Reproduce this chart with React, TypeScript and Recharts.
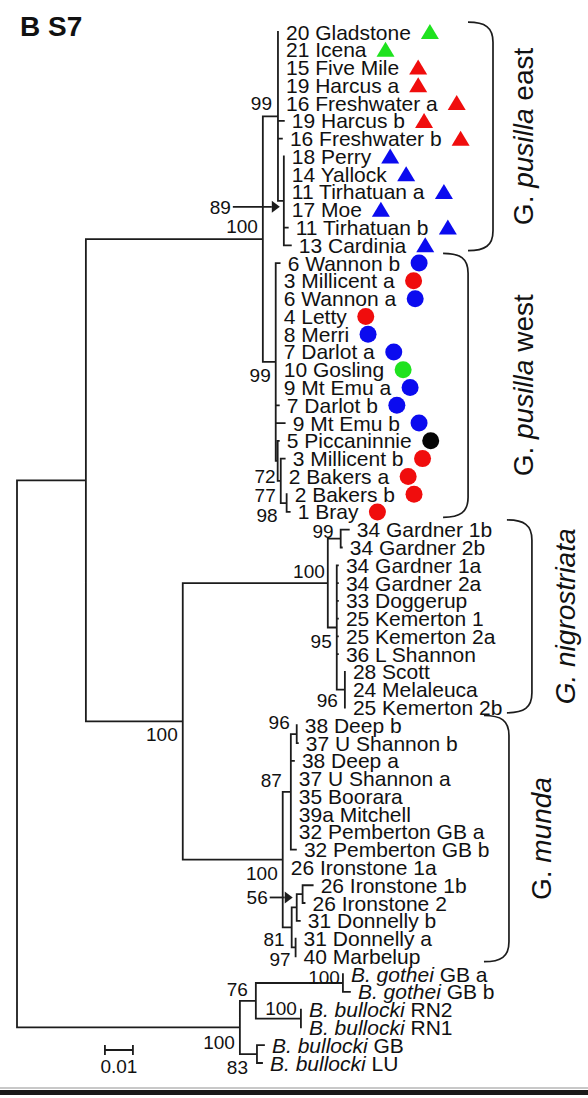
import React from 'react';
import { ComposedChart, XAxis, YAxis, Line, Scatter } from 'recharts';

// internal nodes of the tree (branch length from parent, substitutions/site)
const NODE_IDS = [
  'root', 'ingroup', 'pusilla', 'east', 'eastSub', 'west', 'westA', 'westB', 'westC',
  'nigroMunda', 'nigro', 'gardnerB', 'nigroPoly', 'scottSub',
  'munda', 'm87', 'm96', 'm81', 'm56', 'mIr', 'm97',
  'outgroup', 'gothRN', 'gothei', 'rn', 'gblu',
];
const NODE_PARENTS = [
  '', 'root', 'ingroup', 'pusilla', 'east', 'pusilla', 'west', 'westA', 'westB',
  'ingroup', 'nigroMunda', 'nigro', 'nigro', 'nigroPoly',
  'nigroMunda', 'munda', 'm87', 'munda', 'm81', 'm56', 'm81',
  'root', 'outgroup', 'gothRN', 'gothRN', 'outgroup',
];
const NODE_LENGTHS = [
  0, 0.0246, 0.0632, 0.0054, 0.0021, 0.0046, 0.0007, 0.0011, 0.0021,
  0.0346, 0.0518, 0.0046, 0.0032, 0.0029,
  0.0357, 0.0029, 0.0021, 0.0032, 0.0018, 0.0021, 0.0014,
  0.0796, 0.0057, 0.0311, 0.0161, 0.0061,
];
const NODE_SUPPORT = [
  null, null, 100, 99, 89, 99, 72, 77, 98,
  100, 100, 99, 95, 96,
  100, 87, 96, 81, 56, null, 97,
  100, 76, 100, 100, 83,
];

// tips, top to bottom
const LEAF_ITALIC = [
  '', '', '', '', '', '', '', '', '', '', '', '', '',
  '', '', '', '', '', '', '', '', '', '', '', '', '', '', '',
  '', '', '', '', '', '', '', '', '', '', '',
  '', '', '', '', '', '', '', '', '', '', '', '', '', '',
  'B. gothei', 'B. gothei', 'B. bullocki', 'B. bullocki', 'B. bullocki', 'B. bullocki',
];
const LEAF_LABELS = [
  '20 Gladstone', '21 Icena', '15 Five Mile', '19 Harcus a', '16 Freshwater a', '19 Harcus b',
  '16 Freshwater b', '18 Perry', '14 Yallock', '11 Tirhatuan a', '17 Moe', '11 Tirhatuan b', '13 Cardinia',
  '6 Wannon b', '3 Millicent a', '6 Wannon a', '4 Letty', '8 Merri', '7 Darlot a', '10 Gosling',
  '9 Mt Emu a', '7 Darlot b', '9 Mt Emu b', '5 Piccaninnie', '3 Millicent b', '2 Bakers a', '2 Bakers b', '1 Bray',
  '34 Gardner 1b', '34 Gardner 2b', '34 Gardner 1a', '34 Gardner 2a', '33 Doggerup', '25 Kemerton 1',
  '25 Kemerton 2a', '36 L Shannon', '28 Scott', '24 Melaleuca', '25 Kemerton 2b',
  '38 Deep b', '37 U Shannon b', '38 Deep a', '37 U Shannon a', '35 Boorara', '39a Mitchell',
  '32 Pemberton GB a', '32 Pemberton GB b', '26 Ironstone 1a', '26 Ironstone 1b', '26 Ironstone 2',
  '31 Donnelly b', '31 Donnelly a', '40 Marbelup',
  ' GB a', ' GB b', ' RN2', ' RN1', ' GB', ' LU',
];
const LEAF_PARENTS = [
  'east', 'east', 'east', 'east', 'east', 'east', 'east',
  'eastSub', 'eastSub', 'eastSub', 'eastSub', 'eastSub', 'eastSub',
  'west', 'west', 'west', 'west', 'west', 'west', 'west', 'west', 'west', 'west',
  'westA', 'westB', 'westB', 'westC', 'westC',
  'gardnerB', 'gardnerB', 'nigroPoly', 'nigroPoly', 'nigroPoly', 'nigroPoly', 'nigroPoly', 'nigroPoly',
  'scottSub', 'scottSub', 'scottSub',
  'm96', 'm96', 'm87', 'm87', 'm87', 'm87', 'm87', 'm87',
  'munda', 'mIr', 'mIr', 'm56', 'm97', 'm97',
  'gothei', 'gothei', 'rn', 'rn', 'gblu', 'gblu',
];
const LEAF_LENGTHS = [
  0, 0, 0, 0, 0, 0.0021, 0.0014, 0, 0, 0, 0, 0.0014, 0.0025,
  0.0014, 0, 0, 0, 0, 0, 0, 0, 0.0011, 0.0032, 0.0004, 0.0014, 0, 0, 0.0011,
  0.0029, 0.0004, 0.0004, 0.0004, 0.0004, 0.0004, 0.0004, 0.0004, 0, 0, 0,
  0, 0.0004, 0.0011, 0, 0, 0, 0, 0.0018, 0, 0.0036, 0.0007, 0.0011, 0, 0,
  0, 0.0025, 0, 0, 0.0025, 0.0018,
];
// T = triangle, C = circle; G green, R red, B blue, K black
const LEAF_MARKERS = [
  'T', 'T', 'T', 'T', 'T', 'T', 'T', 'T', 'T', 'T', 'T', 'T', 'T',
  'C', 'C', 'C', 'C', 'C', 'C', 'C', 'C', 'C', 'C', 'C', 'C', 'C', 'C', 'C',
];
const LEAF_GROUPS = [
  'G', 'G', 'R', 'R', 'R', 'R', 'R', 'B', 'B', 'B', 'B', 'B', 'B',
  'B', 'R', 'B', 'R', 'B', 'B', 'G', 'B', 'B', 'B', 'K', 'R', 'R', 'R', 'R',
];

// clades
const CLADE_GENUS = ['G. ', 'G. ', 'G. ', 'G. '];
const CLADE_EPITHET = ['pusilla', 'pusilla', 'nigrostriata', 'munda'];
const CLADE_SUFFIX = [' east', ' west', '', ''];
const CLADE_FIRST = [0, 13, 28, 39];
const CLADE_LAST = [12, 27, 38, 52];

const SCALE_BAR_START = 0.0314;
const SCALE_BAR_LENGTH = 0.01;
const SCALE_BAR_ROW = 57.27;

// ---- layout ----
const W = 588;
const H = 1098;
const MARGIN = { top: 32, right: 11, bottom: 35, left: 17 };
const ROW_PX = (H - MARGIN.top - MARGIN.bottom) / 58;
const FONT = '"Liberation Sans", Arial, Helvetica, sans-serif';
const LEAF_SIZE = 21;
const LINE = '#1c1c1c';
const COLOURS: Record<string, string> = { G: '#1fe21f', R: '#f00d0d', B: '#0b0bef', K: '#050505' };

const LABEL_DX: Record<string, number> = {
  east: -6, gardnerB: -7, scottSub: -7, m87: -9, m96: -7, m81: -7, gothRN: -8, gblu: -9,
  westA: -2, westC: -9, gothei: -3, nigro: -3, rn: -4,
};
const LABEL_DY: Record<string, number> = {
  east: -13, eastSub: 6, pusilla: -13, west: 13, westA: 15, westB: 14, westC: 12,
  nigroMunda: 13, nigro: -12, gardnerB: -8, nigroPoly: 14, scottSub: 10,
  munda: 13, m87: -12, m96: -12, m56: -10, m81: 12, m97: 12,
  outgroup: 15, gothRN: -12, gothei: -6, rn: -11, gblu: 13,
};
const ARROW_LEN: Record<string, number> = { eastSub: 39, m56: 15 };
const BRACKET_X = [0.17, 0.1611, 0.1839, 0.1757];
const CLADE_TEXT_DX = [40, 65, 43, 42];
const CLADE_ITALIC_GENUS = [false, false, true, false];

// ---- build tree geometry ----
const depth: Record<string, number> = {};
NODE_IDS.forEach((id, i) => {
  depth[id] = (NODE_PARENTS[i] ? depth[NODE_PARENTS[i]] : 0) + NODE_LENGTHS[i];
});
const leafDepth = LEAF_LABELS.map((_, i) => depth[LEAF_PARENTS[i]] + LEAF_LENGTHS[i]);

const nodeY: Record<string, number> = {};
const nodeMin: Record<string, number> = {};
const nodeMax: Record<string, number> = {};
for (let i = NODE_IDS.length - 1; i >= 0; i--) {
  const id = NODE_IDS[i];
  const ys: number[] = [];
  LEAF_PARENTS.forEach((p, r) => { if (p === id) ys.push(r); });
  NODE_IDS.forEach((c, j) => { if (NODE_PARENTS[j] === id) ys.push(nodeY[c]); });
  nodeMin[id] = Math.min(...ys);
  nodeMax[id] = Math.max(...ys);
  nodeY[id] = (nodeMin[id] + nodeMax[id]) / 2;
}

const treeSegments: { x: number; y: number | null }[] = [];
const addSeg = (x1: number, y1: number, x2: number, y2: number) => {
  treeSegments.push({ x: x1, y: y1 }, { x: x2, y: y2 }, { x: x2, y: null });
};
NODE_IDS.forEach((id, i) => {
  addSeg(depth[id], nodeMin[id], depth[id], nodeMax[id]);
  if (NODE_PARENTS[i] && NODE_LENGTHS[i] > 0) addSeg(depth[NODE_PARENTS[i]], nodeY[id], depth[id], nodeY[id]);
});
LEAF_LABELS.forEach((_, r) => {
  if (LEAF_LENGTHS[r] > 0) addSeg(depth[LEAF_PARENTS[r]], r, leafDepth[r], r);
});

const t = 0.28;
const scaleSegments = [
  { x: SCALE_BAR_START, y: SCALE_BAR_ROW }, { x: SCALE_BAR_START + SCALE_BAR_LENGTH, y: SCALE_BAR_ROW }, { x: SCALE_BAR_START, y: null },
  { x: SCALE_BAR_START, y: SCALE_BAR_ROW - t }, { x: SCALE_BAR_START, y: SCALE_BAR_ROW + t }, { x: SCALE_BAR_START, y: null },
  { x: SCALE_BAR_START + SCALE_BAR_LENGTH, y: SCALE_BAR_ROW - t }, { x: SCALE_BAR_START + SCALE_BAR_LENGTH, y: SCALE_BAR_ROW + t },
];
const scaleLabel = [{ x: SCALE_BAR_START + SCALE_BAR_LENGTH / 2, y: SCALE_BAR_ROW, text: String(SCALE_BAR_LENGTH) }];

const leafPoints = LEAF_LABELS.map((label, r) => ({
  x: leafDepth[r], y: r, label, italic: LEAF_ITALIC[r], marker: LEAF_MARKERS[r] || '', group: LEAF_GROUPS[r] || '',
}));
const supportPoints = NODE_IDS.map((id, i) => ({ id, x: depth[id], y: nodeY[id], value: NODE_SUPPORT[i] }))
  .filter((p) => p.value !== null);
const cladePoints = CLADE_EPITHET.map((epithet, i) => {
  const top = CLADE_FIRST[i] - 0.55;
  const bottom = CLADE_LAST[i] + 0.3;
  return {
    x: BRACKET_X[i], y: (top + bottom) / 2, half: (bottom - top) / 2,
    genus: CLADE_GENUS[i], epithet, suffix: CLADE_SUFFIX[i], dx: CLADE_TEXT_DX[i], italicGenus: CLADE_ITALIC_GENUS[i],
  };
});

let ctx: CanvasRenderingContext2D | null = null;
const textWidth = (s: string, font: string) => {
  if (!ctx) ctx = document.createElement('canvas').getContext('2d');
  if (!ctx) return s.length * 10;
  ctx.font = font;
  return ctx.measureText(s).width;
};

const LeafShape = (props: any) => {
  const { cx, cy, payload } = props;
  const tx = cx + 8;
  const w = textWidth(payload.label, `${LEAF_SIZE}px ${FONT}`);
  const mx = tx + w + 10 + 9;
  const fill = COLOURS[payload.group];
  return (
    <g>
      <text x={tx} y={cy + 7.5} fontSize={LEAF_SIZE} fontFamily={FONT} fill="#111" style={{ whiteSpace: 'pre' }}>
        {payload.italic ? <tspan fontStyle="italic">{payload.italic}</tspan> : null}
        <tspan>{payload.label}</tspan>
      </text>
      {payload.marker === 'T' && (
        <polygon points={`${mx},${cy - 8} ${mx - 9},${cy + 7} ${mx + 9},${cy + 7}`} fill={fill} />
      )}
      {payload.marker === 'C' && <circle cx={mx} cy={cy} r={8.5} fill={fill} />}
    </g>
  );
};

const SupportShape = (props: any) => {
  const { cx, cy, payload } = props;
  const dy = LABEL_DY[payload.id] ?? 13;
  const yy = cy + dy;
  const arrow = ARROW_LEN[payload.id];
  if (arrow) {
    const tip = cx - 4;
    const head = tip - 8;
    const start = head - arrow;
    return (
      <g>
        <text x={start - 2} y={yy + 7} textAnchor="end" fontSize={19} fontFamily={FONT} fill="#111">{payload.value}</text>
        <line x1={start} y1={yy} x2={head} y2={yy} stroke={LINE} strokeWidth={1.8} />
        <polygon points={`${tip},${yy} ${head},${yy - 6} ${head},${yy + 6}`} fill={LINE} />
      </g>
    );
  }
  const dx = LABEL_DX[payload.id] ?? -5;
  return (
    <text x={cx + dx} y={yy + 7} textAnchor="end" fontSize={19} fontFamily={FONT} fill="#111">{payload.value}</text>
  );
};

const CladeShape = (props: any) => {
  const { cx, cy, payload } = props;
  const h = payload.half * ROW_PX;
  const top = cy - h;
  const bot = cy + h;
  const R = cx;
  const L = cx - 25;
  const d = `M${L},${top} C${R - 8},${top} ${R},${top + 5} ${R},${top + 20} L${R},${bot - 20} C${R},${bot - 5} ${R - 8},${bot} ${L},${bot}`;
  const tx = cx + payload.dx;
  return (
    <g>
      <path d={d} fill="none" stroke={LINE} strokeWidth={1.7} />
      <text x={tx} y={cy} transform={`rotate(-90 ${tx} ${cy})`} textAnchor="middle" fontSize={28}
        fontFamily={FONT} fill="#111" style={{ whiteSpace: 'pre' }}>
        <tspan fontStyle={payload.italicGenus ? 'italic' : 'normal'}>{payload.genus}</tspan>
        <tspan fontStyle="italic">{payload.epithet}</tspan>
        {payload.suffix ? <tspan>{payload.suffix}</tspan> : null}
      </text>
    </g>
  );
};

const ScaleLabelShape = (props: any) => {
  const { cx, cy, payload } = props;
  return (
    <text x={cx} y={cy + 23} textAnchor="middle" fontSize={19} fontFamily={FONT} fill="#111">{payload.text}</text>
  );
};

export default function App() {
  return (
    <div style={{ position: 'relative', width: W, height: H, background: '#fff', fontFamily: FONT, overflow: 'hidden' }}>
      <style>{'body{margin:0}'}</style>
      <ComposedChart width={W} height={H} margin={MARGIN}>
        <XAxis type="number" dataKey="x" domain={[0, 0.2]} hide />
        <YAxis type="number" dataKey="y" domain={[0, 58]} reversed hide />
        <Line data={treeSegments} dataKey="y" type="linear" stroke={LINE} strokeWidth={1.8} strokeLinecap="square"
          dot={false} activeDot={false} connectNulls={false} isAnimationActive={false} />
        <Line data={scaleSegments} dataKey="y" type="linear" stroke={LINE} strokeWidth={1.8}
          dot={false} activeDot={false} connectNulls={false} isAnimationActive={false} />
        <Scatter data={leafPoints} shape={LeafShape} isAnimationActive={false} />
        <Scatter data={supportPoints} shape={SupportShape} isAnimationActive={false} />
        <Scatter data={cladePoints} shape={CladeShape} isAnimationActive={false} />
        <Scatter data={scaleLabel} shape={ScaleLabelShape} isAnimationActive={false} />
      </ComposedChart>
      <div style={{ position: 'absolute', left: 20, top: 13, fontSize: 28, lineHeight: '28px', fontWeight: 'bold', color: '#111' }}>
        B S7
      </div>
      <div style={{ position: 'absolute', left: 0, top: 1087, width: W, height: 2, background: '#c8c8c8' }} />
      <div style={{ position: 'absolute', left: 0, top: 1090, width: W, height: 5, background: '#1a1a1a' }} />
    </div>
  );
}
